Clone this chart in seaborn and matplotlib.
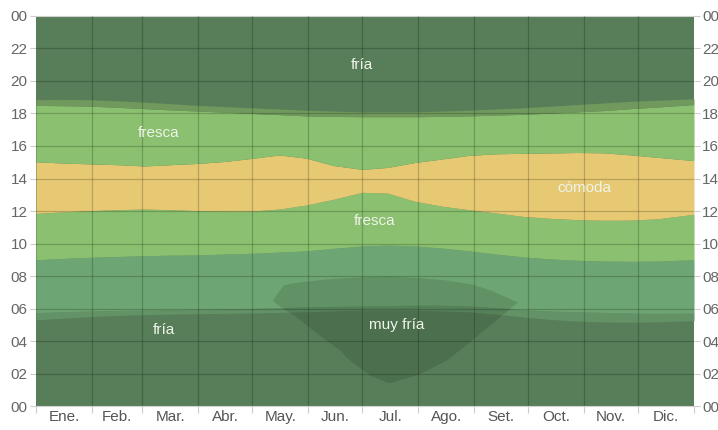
import numpy as np
import matplotlib
matplotlib.use("Agg")
import matplotlib.pyplot as plt
import seaborn as sns

# Day-of-year sample points shared by all band edges
days = [0, 15, 30, 45, 60, 75, 90, 105, 120, 135, 150, 165, 181,
        195, 210, 225, 240, 255, 270, 285, 300, 315, 330, 345, 365]

# Hour-of-day edges of each temperature band (bottom to top)
fria_low_top = [5.30, 5.40, 5.50, 5.57, 5.62, 5.65, 5.68, 5.70, 5.72, 5.76, 5.80, 5.85, 5.90,
                5.90, 5.90, 5.85, 5.80, 5.65, 5.48, 5.33, 5.22, 5.17, 5.15, 5.18, 5.25]
morning_bottom = [5.75, 5.80, 5.85, 5.88, 5.90, 5.93, 5.95, 5.98, 6.00, 6.05, 6.10, 6.13, 6.15,
                  6.18, 6.20, 6.20, 6.15, 6.05, 5.92, 5.85, 5.80, 5.76, 5.72, 5.70, 5.72]
morning_top = [9.00, 9.08, 9.15, 9.20, 9.25, 9.28, 9.30, 9.35, 9.40, 9.47, 9.55, 9.70, 9.85,
               9.90, 9.85, 9.72, 9.55, 9.35, 9.18, 9.05, 8.97, 8.92, 8.90, 8.92, 9.00]
comoda_bottom = [11.85, 11.95, 12.02, 12.08, 12.12, 12.08, 12.02, 12.00, 12.00, 12.12, 12.37, 12.72, 13.15,
                 13.10, 12.60, 12.30, 12.08, 11.88, 11.67, 11.55, 11.47, 11.43, 11.44, 11.52, 11.80]
comoda_top = [15.03, 14.95, 14.90, 14.85, 14.77, 14.85, 14.93, 15.05, 15.24, 15.45, 15.25, 14.80, 14.56,
              14.68, 14.98, 15.20, 15.42, 15.52, 15.55, 15.57, 15.60, 15.58, 15.45, 15.30, 15.10]
fresca_top = [18.50, 18.48, 18.45, 18.38, 18.30, 18.22, 18.15, 18.08, 18.00, 17.93, 17.85, 17.82, 17.80,
              17.80, 17.80, 17.82, 17.85, 17.90, 17.95, 18.02, 18.10, 18.18, 18.30, 18.40, 18.55]
fria_high_bottom = [18.85, 18.87, 18.85, 18.78, 18.70, 18.60, 18.50, 18.42, 18.35, 18.27, 18.20, 18.15, 18.10,
                    18.10, 18.10, 18.15, 18.20, 18.28, 18.35, 18.45, 18.55, 18.65, 18.75, 18.82, 18.90]

# "muy fría" region (winter nights)
muy_fria_days = [131, 137, 143, 159, 169, 172, 185, 196, 213, 228, 242, 253, 267]
muy_fria_top = [6.5, 7.45, 7.6, 7.8, 7.88, 7.9, 7.97, 8.0, 7.9, 7.75, 7.5, 7.1, 6.4]
muy_fria_bottom = [6.5, 6.0, 5.6, 4.2, 3.4, 3.0, 1.9, 1.42, 2.0, 2.85, 4.1, 5.1, 6.4]

month_labels = ["Ene.", "Feb.", "Mar.", "Abr.", "May.", "Jun.",
                "Jul.", "Ago.", "Set.", "Oct.", "Nov.", "Dic."]
month_starts = [0, 31, 59, 90, 120, 151, 181, 212, 243, 273, 304, 334, 365]
hour_ticks = list(range(0, 25, 2))
hour_labels = ["00", "02", "04", "06", "08", "10", "12",
               "14", "16", "18", "20", "22", "00"]

band_labels = [("fría", 181, 21.0), ("fresca", 68, 16.8), ("cómoda", 304, 13.4),
               ("fresca", 188, 11.4), ("fría", 71, 4.7), ("muy fría", 200, 5.0)]

sns.set_theme(style="white")
plt.rcParams["font.family"] = ["Liberation Sans", "DejaVu Sans"]

C_FRIA = "#577e58"
C_EDGE_LOW = "#629266"
C_MORNING = "#6ea574"
C_FRESCA = "#8ac06f"
C_COMODA = "#e7c973"
C_EDGE_HIGH = "#71995d"

fig = plt.figure(figsize=(7.18, 4.30), dpi=100)
ax = fig.add_axes([0.0501, 0.0558, 0.9165, 0.907])

x = np.array(days)
ax.fill_between([0, 365], 0, 24, color=C_FRIA, lw=0)
ax.fill_between(x, fria_low_top, morning_bottom, color=C_EDGE_LOW, lw=0)
ax.fill_between(x, morning_bottom, morning_top, color=C_MORNING, lw=0)
ax.fill_between(x, morning_top, comoda_bottom, color=C_FRESCA, lw=0)
ax.fill_between(x, comoda_bottom, comoda_top, color=C_COMODA, lw=0)
ax.fill_between(x, comoda_top, fresca_top, color=C_FRESCA, lw=0)
ax.fill_between(x, fresca_top, fria_high_bottom, color=C_EDGE_HIGH, lw=0)
ax.fill_between(muy_fria_days, muy_fria_bottom, muy_fria_top,
                color="#0c1f0c", alpha=0.14, lw=0)

for text, d, h in band_labels:
    ax.text(d, h, text, ha="center", va="center", fontsize=11,
            color="#eef4ea", zorder=5)

ax.set_xlim(0, 365)
ax.set_ylim(0, 24)

# grid lines drawn over the bands
for d in month_starts[1:-1]:
    ax.axvline(d, color="black", alpha=0.2, lw=0.9, zorder=4)
for h in hour_ticks[1:-1]:
    ax.axhline(h, color="black", alpha=0.2, lw=0.9, zorder=4)

ax.set_xticks(month_starts)
ax.set_xticklabels([])
centers = [(a + b) / 2 for a, b in zip(month_starts[:-1], month_starts[1:])]
ax.set_xticks(centers, minor=True)
ax.set_xticklabels(month_labels, minor=True)
ax.tick_params(axis="x", which="major", length=5, color="#cccccc", width=0.8, bottom=True)
ax.tick_params(axis="x", which="minor", length=0, labelsize=11, labelcolor="#555555", pad=3)

ax.set_yticks(hour_ticks)
ax.set_yticklabels(hour_labels)
ax.tick_params(axis="y", which="major", left=True, right=True, labelleft=True, labelright=True,
               length=4, color="#cccccc", width=0.8, labelsize=11, labelcolor="#666666", pad=2)

for side in ["left", "right"]:
    ax.spines[side].set_visible(False)
for side in ["top", "bottom"]:
    ax.spines[side].set_color("#d0d0d0")
    ax.spines[side].set_linewidth(0.8)

ax.set_xlabel("")
ax.set_ylabel("")
fig.savefig("out.png", dpi=100)
